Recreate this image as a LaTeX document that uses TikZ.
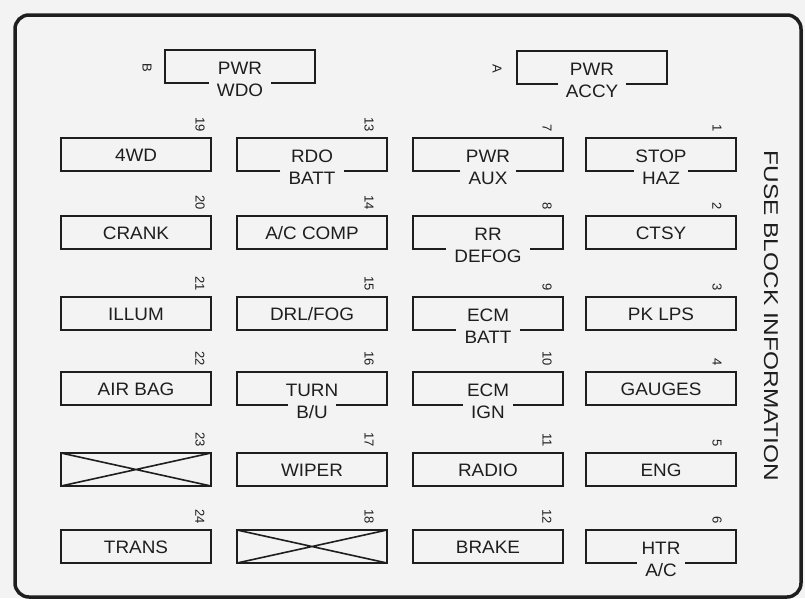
\documentclass[tikz,border=0pt]{standalone}
\usepackage{fontspec}
\setmainfont{Liberation Sans}
\newfontfamily\lblfont[FakeStretch=1.05]{Liberation Sans}
\newfontfamily\sidefont[FakeStretch=1.22]{Liberation Sans}
\definecolor{bgc}{RGB}{243,243,243}
\definecolor{ink}{RGB}{30,30,30}
\tikzset{
  fusebox/.style={draw=ink, line width=2.5pt, minimum width=150pt, minimum height=33pt, inner sep=0pt, outer sep=0pt, anchor=north west},
  openbox/.style={fusebox, draw=none},
  boxline/.style={draw=ink, line width=2.5pt},
  lbl/.style={font=\lblfont\fontsize{18}{18}\selectfont, text=ink, inner sep=0pt, text height=13pt, text depth=0pt},
  lbltwo/.style={lbl},
  num/.style={font=\fontsize{13}{13}\selectfont, text=ink, inner sep=0pt, rotate=-90, anchor=east},
  side/.style={font=\sidefont\fontsize{20}{20}\selectfont, text=ink, inner sep=0pt, rotate=-90},
  frame/.style={draw=ink, line width=3.5pt, rounded corners=14pt},
  crossline/.style={draw=ink, line width=1.6pt},
}
\newcommand\fuseone[6]{%
  \node[fusebox] (#1) at (#2,#3) {};
  \node[lbl] (#1t) at (#1.center) {#4};
  \node[num] (#1n) at (#6,#3-6) {#5};
}
\newcommand\gapbox[1]{%
  \draw[boxline] ([xshift=-8pt]#1b.west |- #1.south) -- (#1.south west) -- (#1.north west)
    -- (#1.north east) -- (#1.south east) -- ([xshift=8pt]#1b.east |- #1.south);
}
\newcommand\fusetwo[7]{%
  \node[openbox] (#1) at (#2,#3) {};
  \node[lbl] (#1t) at ([yshift=-1.5pt]#1.center) {#4};
  \node[lbltwo] (#1b) at ([yshift=-7pt]#1.south) {#5};
  \gapbox{#1}
  \node[num] (#1n) at (#7,#3-6) {#6};
}
\newcommand\fusecross[5]{%
  \node[fusebox] (#1) at (#2,#3) {};
  \draw[crossline] (#1.north west) -- (#1.south east) (#1.south west) -- (#1.north east);
  \node[num] (#1n) at (#5,#3-6) {#4};
}
\begin{document}
\begin{tikzpicture}[x={(1pt,0pt)}, y={(0pt,-1pt)}]
  \useasboundingbox (0,0) rectangle (805,598);
  \fill[bgc] (0,0) rectangle (805,598);
  \draw[frame] (15,15) rectangle (801,597);

  % top row
  \node[openbox] (wdo) at (165,50) {};
  \node[lbl] (wdot) at ([yshift=-1.5pt]wdo.center) {PWR};
  \node[lbltwo] (wdob) at ([yshift=-7pt]wdo.south) {WDO};
  \gapbox{wdo}
  \node[num, anchor=center] (wdon) at (147,68) {B};

  \node[openbox] (accy) at (517,51) {};
  \node[lbl] (accyt) at ([yshift=-1.5pt]accy.center) {PWR};
  \node[lbltwo] (accyb) at ([yshift=-7pt]accy.south) {ACCY};
  \gapbox{accy}
  \node[num, anchor=center] (accyn) at (497,69) {A};

  % row 1
  \fuseone{f19}{61}{138}{4WD}{19}{200}
  \fusetwo{f13}{237}{138}{RDO}{BATT}{13}{369}
  \fusetwo{f7}{413}{138}{PWR}{AUX}{7}{547}
  \fusetwo{f1}{586}{138}{STOP}{HAZ}{1}{717}
  % row 2
  \fuseone{f20}{61}{216}{CRANK}{20}{200}
  \fuseone{f14}{237}{216}{A/C COMP}{14}{369}
  \fusetwo{f8}{413}{216}{RR}{DEFOG}{8}{547}
  \fuseone{f2}{586}{216}{CTSY}{2}{717}
  % row 3
  \fuseone{f21}{61}{297}{ILLUM}{21}{200}
  \fuseone{f15}{237}{297}{DRL/FOG}{15}{369}
  \fusetwo{f9}{413}{297}{ECM}{BATT}{9}{547}
  \fuseone{f3}{586}{297}{PK LPS}{3}{717}
  % row 4
  \fuseone{f22}{61}{372}{AIR BAG}{22}{200}
  \fusetwo{f16}{237}{372}{TURN}{B/U}{16}{369}
  \fusetwo{f10}{413}{372}{ECM}{IGN}{10}{547}
  \fuseone{f4}{586}{372}{GAUGES}{4}{717}
  % row 5
  \fusecross{f23}{61}{453}{23}{200}
  \fuseone{f17}{237}{453}{WIPER}{17}{369}
  \fuseone{f11}{413}{453}{RADIO}{11}{547}
  \fuseone{f5}{586}{453}{ENG}{5}{717}
  % row 6
  \fuseone{f24}{61}{530}{TRANS}{24}{200}
  \fusecross{f18}{237}{530}{18}{369}
  \fuseone{f12}{413}{530}{BRAKE}{12}{547}
  \fusetwo{f6}{586}{530}{HTR}{A/C}{6}{717}

  \node[side] (title) at (771,316) {FUSE BLOCK INFORMATION};
\end{tikzpicture}
\end{document}
